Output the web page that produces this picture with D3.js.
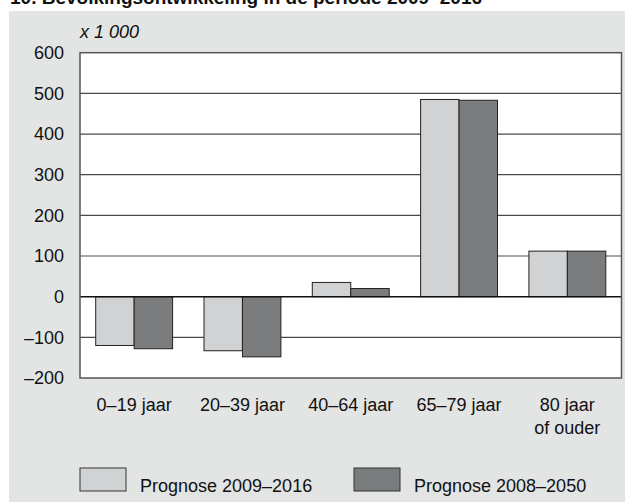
<!DOCTYPE html>
<html><head><meta charset="utf-8">
<script src="https://cdn.jsdelivr.net/npm/d3@7"></script>
<style>body{margin:0;background:#fff;}svg{display:block;font-family:"Liberation Sans",Arial,sans-serif;}</style>
</head><body><svg id="c" width="625" height="503"></svg>
<script>
const title = "10. Bevolkingsontwikkeling in de periode 2009–2016";
const unitLabel = "x 1 000";
const categories = [["0–19 jaar"], ["20–39 jaar"], ["40–64 jaar"], ["65–79 jaar"], ["80 jaar", "of ouder"]];
const seriesNames = ["Prognose 2009–2016", "Prognose 2008–2050"];
const prognose2009_2016 = [-120, -133, 35, 485, 112];
const prognose2008_2050 = [-128, -148, 20, 483, 112];
const yTicks = [-200, -100, 0, 100, 200, 300, 400, 500, 600];
const colors = ["#d1d2d4", "#7b7c7e"];

const svg = d3.select("#c");
const M = {left: 80, right: 621.5, top: 52.7, bottom: 378};

svg.append("rect").attr("x", 9).attr("y", 11).attr("width", 616).attr("height", 491).attr("fill", "#e3e4e4");
svg.append("text").attr("x", 10).attr("y", 4).attr("font-weight", "bold").attr("font-size", 19).attr("fill", "#111").text(title);

const y = d3.scaleLinear().domain([-200, 600]).range([M.bottom, M.top]);
const x0 = d3.scaleBand().domain(d3.range(categories.length)).range([M.left, M.right]).paddingInner(0.29).paddingOuter(0.145);
const x1 = d3.scaleBand().domain([0, 1]).range([0, x0.bandwidth()]);

svg.append("rect").attr("x", M.left).attr("y", M.top).attr("width", M.right - M.left).attr("height", M.bottom - M.top).attr("fill", "#fff");

// gridlines
svg.append("g").selectAll("line").data(yTicks.filter(t => t !== 600 && t !== -200 && t !== 0)).join("line")
  .attr("x1", M.left).attr("x2", M.right).attr("y1", d => y(d)).attr("y2", d => y(d))
  .attr("stroke", "#4a4a4a").attr("stroke-width", 1.2);

// bars
const series = [prognose2009_2016, prognose2008_2050];
series.forEach((vals, si) => {
  svg.append("g").selectAll("rect").data(vals).join("rect")
    .attr("x", (d, i) => x0(i) + x1(si))
    .attr("width", x1.bandwidth())
    .attr("y", d => y(Math.max(0, d)))
    .attr("height", d => Math.abs(y(d) - y(0)))
    .attr("fill", colors[si]).attr("stroke", "#222").attr("stroke-width", 1);
});

// zero line
svg.append("line").attr("x1", M.left).attr("x2", M.right).attr("y1", y(0)).attr("y2", y(0)).attr("stroke", "#111").attr("stroke-width", 1.4);

// frame
svg.append("rect").attr("x", M.left).attr("y", M.top).attr("width", M.right - M.left).attr("height", M.bottom - M.top)
  .attr("fill", "none").attr("stroke", "#555").attr("stroke-width", 1.5);

// y axis labels
const yAxis = d3.axisLeft(y).tickValues(yTicks).tickSize(0).tickPadding(16)
  .tickFormat(d => d < 0 ? "–" + Math.abs(d) : String(d));
const ya = svg.append("g").attr("transform", `translate(${M.left},0)`).call(yAxis);
ya.select(".domain").remove();
ya.selectAll("text").attr("font-size", 18).attr("fill", "#111").attr("font-family", "Liberation Sans, Arial, sans-serif");

svg.append("text").attr("x", M.left).attr("y", 38).attr("font-style", "italic").attr("font-size", 18).attr("fill", "#111").text(unitLabel);

// x labels
const xl = svg.append("g").selectAll("text").data(categories).join("text")
  .attr("x", (d, i) => x0(i) + x0.bandwidth() / 2).attr("y", 411)
  .attr("text-anchor", "middle").attr("font-size", 18).attr("fill", "#111");
xl.selectAll("tspan").data(d => d).join("tspan")
  .attr("x", function() { return this.parentNode.getAttribute("x"); })
  .attr("dy", (d, i) => i === 0 ? 0 : 23).text(d => d);

// legend
const legX = [80, 354];
seriesNames.forEach((n, i) => {
  svg.append("rect").attr("x", legX[i]).attr("y", 468).attr("width", 46).attr("height", 23)
    .attr("fill", colors[i]).attr("stroke", "#333").attr("stroke-width", 1);
  svg.append("text").attr("x", legX[i] + 60).attr("y", 492).attr("font-size", 18).attr("fill", "#111").text(n);
});
</script></body></html>
